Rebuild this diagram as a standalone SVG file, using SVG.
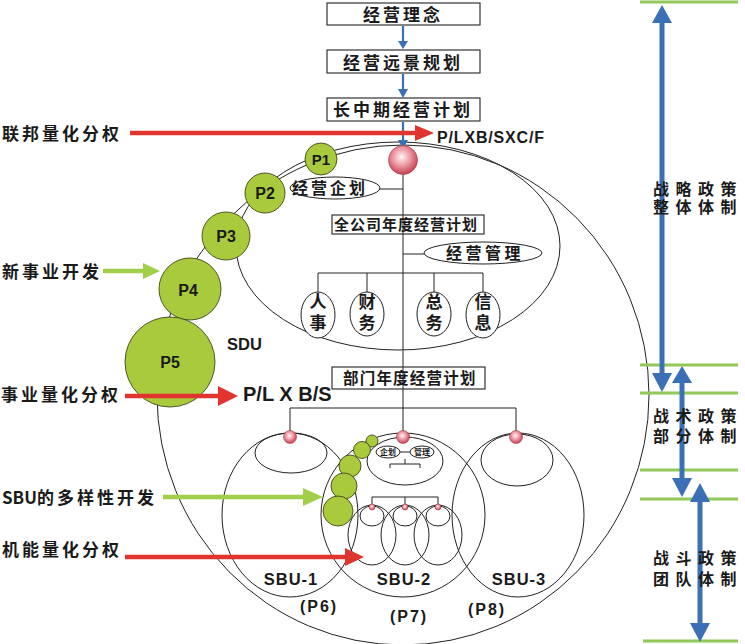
<svg xmlns="http://www.w3.org/2000/svg" width="745" height="644" viewBox="0 0 745 644">
<defs>
<radialGradient id="pink" cx="45%" cy="40%" r="60%">
<stop offset="0" stop-color="#fff4f4"/>
<stop offset="0.45" stop-color="#f0a2ab"/>
<stop offset="1" stop-color="#c63f52"/>
</radialGradient>
<style>
.ln{fill:none;stroke:#222;stroke-width:1}
.box{fill:none;stroke:#333;stroke-width:1.2}
.ov{fill:#fff;stroke:#222;stroke-width:1}
.gp{fill:#a8ca3c;stroke:#3d4a1a;stroke-width:0.9}
.ball{fill:url(#pink);stroke:#a63446;stroke-width:0.6}
.cn{font-family:"Noto Sans CJK SC","Noto Sans",sans-serif;font-weight:bold;fill:#1a1a1a}
.lat{font-family:"Liberation Sans",Arial,sans-serif;font-weight:bold;fill:#1a1a1a}
.red{stroke:#e0342e;stroke-width:4.5;fill:none}
.redh{fill:#e0342e}
.grn{stroke:#a2cf4a;stroke-width:4.5;fill:none}
.grnh{fill:#a2cf4a}
.blu{stroke:#3b6fb6;stroke-width:5;fill:none}
.bluh{fill:#3b6fb6}
.bls{stroke:#3b6fb6;stroke-width:2.2;fill:none}
.gl{stroke:#92c857;stroke-width:3}
</style>
</defs>
<rect width="745" height="644" fill="#fff"/>

<g id="frames">
<ellipse class="ln" cx="403" cy="395" rx="246" ry="250"/>
<ellipse class="ln" cx="398" cy="246" rx="162" ry="104"/>
<ellipse class="ln" cx="290" cy="515" rx="68" ry="82"/>
<ellipse class="ln" cx="403" cy="515" rx="82" ry="82"/>
<ellipse class="ln" cx="518" cy="515" rx="66" ry="82"/>
<ellipse class="ln" cx="291" cy="453" rx="36" ry="20"/>
<ellipse class="ln" cx="405" cy="461" rx="38" ry="24"/>
<ellipse class="ln" cx="517" cy="460" rx="36" ry="26"/>
<ellipse class="ln" cx="372" cy="535" rx="24" ry="30"/>
<ellipse class="ln" cx="405" cy="535" rx="24" ry="30"/>
<ellipse class="ln" cx="438" cy="535" rx="24" ry="30"/>
<ellipse class="ln" cx="372" cy="516" rx="12" ry="10"/>
<ellipse class="ln" cx="405" cy="516" rx="12" ry="10"/>
<ellipse class="ln" cx="438" cy="516" rx="12" ry="10"/>
</g>

<g id="connectors">
<line class="ln" x1="403" y1="160" x2="403" y2="437"/>
<line class="ln" x1="380" y1="189" x2="403" y2="189"/>
<line class="ln" x1="403" y1="254" x2="424" y2="254"/>
<polyline class="ln" points="318,292 318,273 483,273 483,292"/>
<line class="ln" x1="367" y1="273" x2="367" y2="292"/>
<line class="ln" x1="434" y1="273" x2="434" y2="292"/>
<polyline class="ln" points="290,437 290,408 516,408 516,437"/>
<line class="ln" x1="400" y1="452" x2="410" y2="452"/>
<polyline class="ln" points="390,468 390,464 420,464 420,468"/>
<line class="ln" x1="405" y1="459" x2="405" y2="464"/>
<polyline class="ln" points="372,507 372,497 438,497 438,507"/>
<line class="ln" x1="405" y1="497" x2="405" y2="507"/>
<line class="bls" x1="403" y1="26" x2="403" y2="42"/>
<polygon class="bluh" points="398,41 408,41 403,49"/>
<line class="bls" x1="403" y1="74" x2="403" y2="90"/>
<polygon class="bluh" points="398,89 408,89 403,98"/>
<line class="bls" x1="403" y1="122" x2="403" y2="141"/>
<polygon class="bluh" points="398,140 408,140 403,149"/>
</g>

<g id="n-linian">
<rect class="box" x="327" y="3" width="153" height="22"/>
<text class="cn" x="363" y="21" font-size="17" letter-spacing="3">经营理念</text>
</g>
<g id="n-yuanjing">
<rect class="box" x="327" y="50" width="153" height="23"/>
<text class="cn" x="343" y="68.5" font-size="17" letter-spacing="3">经营远景规划</text>
</g>
<g id="n-changzhong">
<rect class="box" x="327" y="98" width="153" height="23"/>
<text class="cn" x="333" y="116" font-size="17" letter-spacing="3">长中期经营计划</text>
</g>

<g id="n-ball"><circle class="ball" cx="403" cy="160" r="14.5"/></g>

<g id="n-qihua">
<ellipse class="ov" cx="335" cy="188" rx="45" ry="11"/>
<text class="cn" x="292" y="194" font-size="16" letter-spacing="3">经营企划</text>
</g>
<g id="n-quangongsi">
<rect class="box" x="332" y="215" width="152" height="19"/>
<text class="cn" x="334" y="230" font-size="15" letter-spacing="1">全公司年度经营计划</text>
</g>
<g id="n-guanli">
<ellipse class="ov" cx="483" cy="253" rx="59" ry="11"/>
<text class="cn" x="446" y="259" font-size="16" letter-spacing="3.5">经营管理</text>
</g>
<g id="n-renshi">
<ellipse class="ov" cx="318" cy="315" rx="17" ry="23"/>
<text class="cn" x="318" y="308" font-size="17" text-anchor="middle">人</text>
<text class="cn" x="318" y="329" font-size="17" text-anchor="middle">事</text>
</g>
<g id="n-caiwu">
<ellipse class="ov" cx="367" cy="314" rx="17" ry="22"/>
<text class="cn" x="367" y="308" font-size="17" text-anchor="middle">财</text>
<text class="cn" x="367" y="329" font-size="17" text-anchor="middle">务</text>
</g>
<g id="n-zongwu">
<ellipse class="ov" cx="434" cy="314" rx="17" ry="22"/>
<text class="cn" x="434" y="308" font-size="17" text-anchor="middle">总</text>
<text class="cn" x="434" y="329" font-size="17" text-anchor="middle">务</text>
</g>
<g id="n-xinxi">
<ellipse class="ov" cx="483" cy="315" rx="17" ry="23"/>
<text class="cn" x="483" y="308" font-size="17" text-anchor="middle">信</text>
<text class="cn" x="483" y="329" font-size="17" text-anchor="middle">息</text>
</g>

<g id="n-bumen">
<rect class="box" x="332" y="367" width="153" height="22"/>
<text class="cn" x="343" y="384" font-size="15.5" letter-spacing="1.2">部门年度经营计划</text>
</g>

<g id="n-sbuballs">
<circle class="ball" cx="290" cy="437" r="6.5"/>
<circle class="ball" cx="403" cy="437" r="6.5"/>
<circle class="ball" cx="516" cy="437" r="6.5"/>
<circle class="ball" cx="372" cy="507" r="3"/>
<circle class="ball" cx="405" cy="507" r="3"/>
<circle class="ball" cx="438" cy="507" r="3"/>
</g>
<g id="n-sbu2-inner">
<ellipse class="ov" cx="388" cy="452" rx="12" ry="6" stroke-width="1.4"/>
<text class="cn" x="388" y="455" font-size="8" text-anchor="middle">企划</text>
<ellipse class="ov" cx="422" cy="452" rx="12" ry="6" stroke-width="1.4"/>
<text class="cn" x="422" y="455" font-size="8" text-anchor="middle">管理</text>
</g>

<g id="n-p1"><circle class="gp" cx="321" cy="159" r="16"/><text class="lat" x="321" y="165" font-size="15" text-anchor="middle">P1</text></g>
<g id="n-p2"><circle class="gp" cx="265" cy="193" r="20"/><text class="lat" x="265" y="199" font-size="16" text-anchor="middle">P2</text></g>
<g id="n-p3"><circle class="gp" cx="226" cy="236" r="24"/><text class="lat" x="226" y="242" font-size="16" text-anchor="middle">P3</text></g>
<g id="n-p4"><circle class="gp" cx="190" cy="289" r="31"/><text class="lat" x="188" y="296" font-size="16" text-anchor="middle">P4</text></g>
<g id="n-p5"><circle class="gp" cx="170" cy="362" r="45"/><text class="lat" x="170" y="368" font-size="16" text-anchor="middle">P5</text></g>

<g id="n-sbugreen">
<circle class="gp" cx="372" cy="441" r="6"/>
<circle class="gp" cx="362" cy="450" r="8.5"/>
<circle class="gp" cx="350" cy="466" r="11"/>
<circle class="gp" cx="344" cy="486" r="13"/>
<circle class="gp" cx="338" cy="511" r="15"/>
</g>

<g id="labels-latin">
<text class="lat" x="437" y="143" font-size="16" textLength="107" lengthAdjust="spacing">P/LXB/SXC/F</text>
<text class="lat" x="227" y="350" font-size="16.5">SDU</text>
<text class="lat" x="243" y="401" font-size="20">P/L X B/S</text>
<text class="lat" x="291" y="585" font-size="16.5" text-anchor="middle" letter-spacing="1">SBU-1</text>
<text class="lat" x="404" y="585" font-size="16.5" text-anchor="middle" letter-spacing="1">SBU-2</text>
<text class="lat" x="519" y="585" font-size="16.5" text-anchor="middle" letter-spacing="1">SBU-3</text>
<text class="lat" x="319" y="612" font-size="16" text-anchor="middle" letter-spacing="2">(P6)</text>
<text class="lat" x="409" y="622" font-size="16" text-anchor="middle" letter-spacing="2">(P7)</text>
<text class="lat" x="487" y="615" font-size="16" text-anchor="middle" letter-spacing="2">(P8)</text>
</g>

<g id="n-lianbang">
<text class="cn" x="2" y="140" font-size="17" letter-spacing="3">联邦量化分权</text>
</g>
<g id="n-xinshiye">
<text class="cn" x="2" y="278" font-size="17" letter-spacing="3">新事业开发</text>
</g>
<g id="n-shiye">
<text class="cn" x="1" y="401" font-size="17" letter-spacing="3">事业量化分权</text>
</g>
<g id="n-sbuduo">
<text class="cn" x="2" y="504" font-size="17"><tspan>SBU</tspan><tspan letter-spacing="3">的多样性开发</tspan></text>
</g>
<g id="n-jineng">
<text class="cn" x="2" y="556" font-size="17" letter-spacing="3">机能量化分权</text>
</g>
<g id="arrows">
<line class="red" x1="130" y1="133" x2="417" y2="133"/>
<polygon class="redh" points="415,125 434,133 415,141"/>
<line class="red" x1="125" y1="396" x2="220" y2="396"/>
<polygon class="redh" points="218,386 238,396 218,406"/>
<line class="red" x1="125" y1="557" x2="347" y2="557"/>
<polygon class="redh" points="345,548 364,557 345,566"/>
<line class="grn" x1="103" y1="271" x2="145" y2="271"/>
<polygon class="grnh" points="143,263 160,271 143,279"/>
<line class="grn" x1="163" y1="497" x2="305" y2="497"/>
<polygon class="grnh" points="303,488 323,497 303,506"/>
</g>

<g id="levels">
<line class="gl" x1="640" y1="2" x2="738" y2="2"/>
<line class="gl" x1="640" y1="365" x2="738" y2="365"/>
<line class="gl" x1="640" y1="393" x2="738" y2="393"/>
<line class="gl" x1="640" y1="470" x2="738" y2="470"/>
<line class="gl" x1="640" y1="499" x2="738" y2="499"/>
<line class="gl" x1="643" y1="641" x2="738" y2="641"/>
<line class="blu" x1="662" y1="20" x2="662" y2="376"/>
<polygon class="bluh" points="652,23 672,23 662,5"/>
<polygon class="bluh" points="652,373 672,373 662,392"/>
<line class="blu" x1="682" y1="380" x2="682" y2="481"/>
<polygon class="bluh" points="672,383 692,383 682,366"/>
<polygon class="bluh" points="672,478 692,478 682,497"/>
<line class="blu" x1="700" y1="499" x2="700" y2="626"/>
<polygon class="bluh" points="690,502 710,502 700,483"/>
<polygon class="bluh" points="690,623 710,623 700,642"/>
</g>
<g id="n-zhanlue">
<text class="cn" x="653" y="195" font-size="16" letter-spacing="6.5">战略政策</text>
<text class="cn" x="653" y="213" font-size="16" letter-spacing="6.5">整体体制</text>
</g>
<g id="n-zhanshu">
<text class="cn" x="653" y="422" font-size="16" letter-spacing="6.5">战术政策</text>
<text class="cn" x="653" y="442" font-size="16" letter-spacing="6.5">部分体制</text>
</g>
<g id="n-zhandou">
<text class="cn" x="653" y="564" font-size="16" letter-spacing="6.5">战斗政策</text>
<text class="cn" x="653" y="585" font-size="16" letter-spacing="6.5">团队体制</text>
</g>
</svg>
